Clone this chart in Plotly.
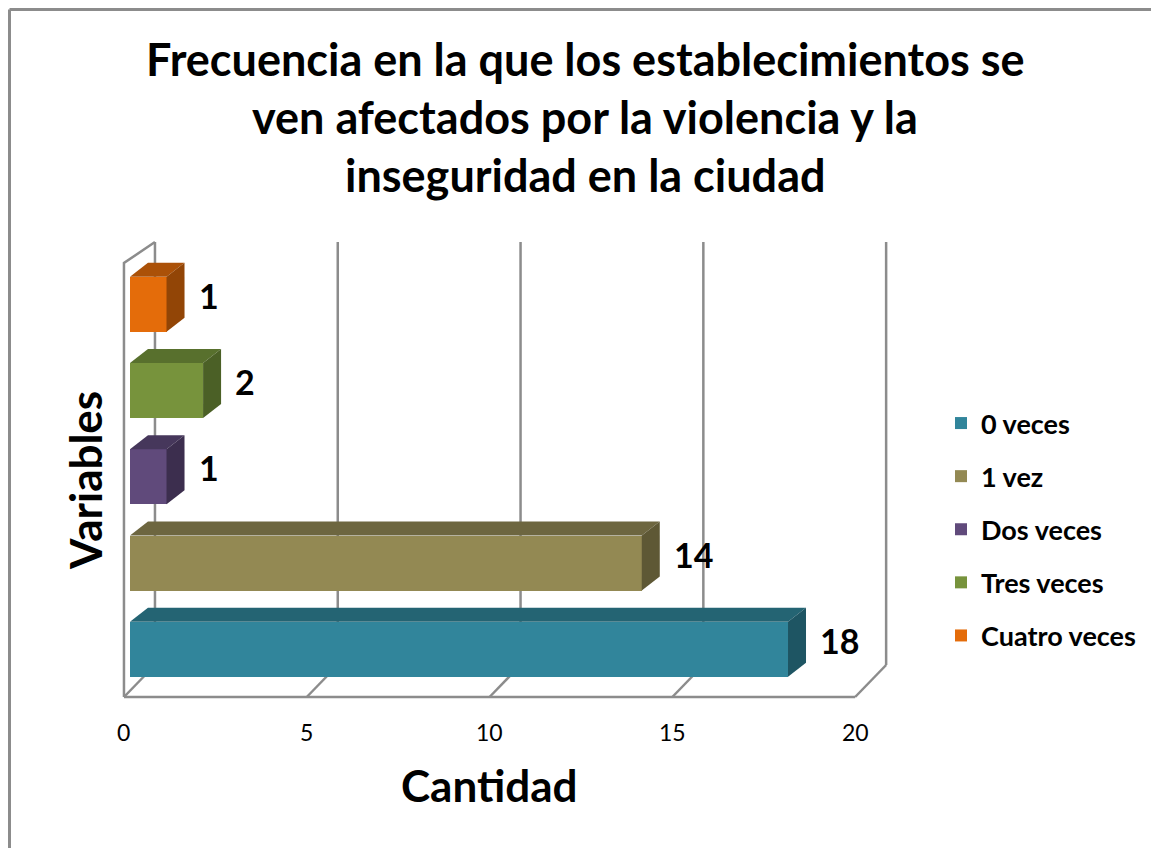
import plotly.graph_objects as go

categories = ["0 veces", "1 vez", "Dos veces", "Tres veces", "Cuatro veces"]
values = [18, 14, 1, 2, 1]
front_colors = ["#31859B", "#938953", "#604A7B", "#77933C", "#E46C0A"]
top_colors = ["#246473", "#6D6640", "#46375B", "#58702D", "#AB5108"]
side_colors = ["#1E5563", "#5E5835", "#3C2E4E", "#4B6026", "#924506"]
tick_vals = [0, 5, 10, 15, 20]
title_lines = ["Frecuencia en la que los establecimientos se",
               "ven afectados por la violencia y la",
               "inseguridad en la ciudad"]

W, H = 1159, 848
OFF = 8  # page body margin
PL, PR, PT, PB = 113, 899, 218, 714
ML, MR, MT, MB = PL - OFF, W - (PR - OFF), PT - OFF, H - (PB - OFF)
XR = [-0.3, 21.2]
YR = [-0.75, 5.0]
pxx = (PR - PL) / (XR[1] - XR[0])
pxy = (PB - PT) / (YR[1] - YR[0])
# bars sit a little deeper in the 3D box: their axis is shifted 6 px to the right
bar_shift = 6 / pxx
XR2 = [XR[0] - bar_shift, XR[1] - bar_shift]

def px2y(py):
    return YR[0] + (PB - py) / pxy

def px2px(px):
    return (px - PL) / (PR - PL)

def py2p(py):
    return (PB - py) / (PB - PT)

bar_w = 55 / pxy
bdx, bdy = 18 / pxx, 14 / pxy
wdx = 31 / pxx
y_floor_front = px2y(697)
y_floor_back = px2y(665)
y_wall_top = px2y(242)
y_left_front_top = px2y(263)

GRAY = "#8C8C8C"
fig = go.Figure()
ypos = list(range(len(categories)))
for i, (c, v) in enumerate(zip(categories, values)):
    fig.add_trace(go.Bar(
        x=[v], y=[ypos[i]], orientation="h", width=bar_w, base=0, xaxis="x2",
        name=f"<b>{c}</b>", legendgroup=c, marker=dict(color=front_colors[i], line=dict(width=0)),
        hoverinfo="x+name", showlegend=True))

shapes = []
line = dict(color=GRAY, width=2.5)
for t in tick_vals:
    shapes.append(dict(type="line", x0=t + wdx, x1=t + wdx, y0=y_floor_back, y1=y_wall_top,
                       xref="x", yref="y", line=line, layer="below"))
    shapes.append(dict(type="line", x0=t, x1=t + wdx, y0=y_floor_front, y1=y_floor_back,
                       xref="x", yref="y", line=line, layer="below"))
shapes.append(dict(type="line", x0=tick_vals[0], x1=tick_vals[-1], y0=y_floor_front, y1=y_floor_front,
                   xref="x", yref="y", line=line, layer="below"))
shapes.append(dict(type="path", path=f"M {tick_vals[0]},{y_floor_front} L {tick_vals[0]},{y_left_front_top} L {tick_vals[0]+wdx},{y_wall_top}",
                   xref="x", yref="y", line=line, layer="below"))

for i, v in enumerate(values):
    yc = ypos[i]
    yb, yt = yc - bar_w / 2, yc + bar_w / 2
    shapes.append(dict(type="path", xref="x2", yref="y",
                       path=f"M 0,{yt} L {v},{yt} L {v+bdx},{yt+bdy} L {bdx},{yt+bdy} Z",
                       fillcolor=top_colors[i], line=dict(width=0), layer="above"))
    shapes.append(dict(type="path", xref="x2", yref="y",
                       path=f"M {v},{yb} L {v},{yt} L {v+bdx},{yt+bdy} L {v+bdx},{yb+bdy} Z",
                       fillcolor=side_colors[i], line=dict(width=0), layer="above"))

bx, by = OFF + 1.5, OFF + 1.5
shapes.append(dict(type="line", xref="paper", yref="paper", x0=px2px(bx), x1=px2px(W + 20),
                   y0=py2p(by), y1=py2p(by), line=dict(color=GRAY, width=3)))
shapes.append(dict(type="line", xref="paper", yref="paper", x0=px2px(bx), x1=px2px(bx),
                   y0=py2p(by), y1=py2p(H + 20), line=dict(color=GRAY, width=3)))

annotations = []
for i, v in enumerate(values):
    annotations.append(dict(x=v, y=ypos[i], xref="x2", yref="y", text=f"<b>{v}</b>",
                            showarrow=False, xanchor="left", yanchor="middle",
                            xshift=30, yshift=9,
                            font=dict(family="Lato", size=34, color="black")))
for k, ln in enumerate(title_lines):
    annotations.append(dict(x=px2px(585), y=py2p(59 + 58 * k), xref="paper", yref="paper",
                            text=f"<b>{ln}</b>", showarrow=False, xanchor="center", yanchor="middle",
                            font=dict(family="Lato", size=45, color="black")))
annotations.append(dict(x=10, y=py2p(785), xref="x", yref="paper", text="<b>Cantidad</b>",
                        showarrow=False, xanchor="center", yanchor="middle",
                        font=dict(family="Lato", size=44, color="black")))
annotations.append(dict(x=px2px(85), y=py2p(481), xref="paper", yref="paper", text="<b>Variables</b>",
                        showarrow=False, xanchor="center", yanchor="middle", textangle=-90,
                        font=dict(family="Lato", size=44, color="black")))
for t in tick_vals:
    annotations.append(dict(x=t, y=py2p(732), xref="x", yref="paper", text=str(t),
                            showarrow=False, xanchor="center", yanchor="middle",
                            font=dict(family="Lato", size=23, color="black")))

axis_common = dict(showgrid=False, zeroline=False, showticklabels=False,
                   showline=False, ticks="", fixedrange=True)
fig.update_layout(
    width=W, height=H, margin=dict(l=ML, r=MR, t=MT, b=MB, autoexpand=False),
    paper_bgcolor="white", plot_bgcolor="white",
    barmode="overlay", bargap=0,
    xaxis=dict(range=XR, **axis_common),
    xaxis2=dict(range=XR2, overlaying="x", side="bottom", **axis_common),
    yaxis=dict(range=YR, **axis_common),
    shapes=shapes, annotations=annotations,
    legend=dict(x=px2px(941), y=py2p(399), xanchor="left", yanchor="top",
                traceorder="grouped", tracegroupgap=15,
                font=dict(family="Lato", size=27, color="black"),
                bgcolor="rgba(0,0,0,0)", itemwidth=30),
    font=dict(family="Lato"),
    showlegend=True,
)

fig.write_html("out.html")
